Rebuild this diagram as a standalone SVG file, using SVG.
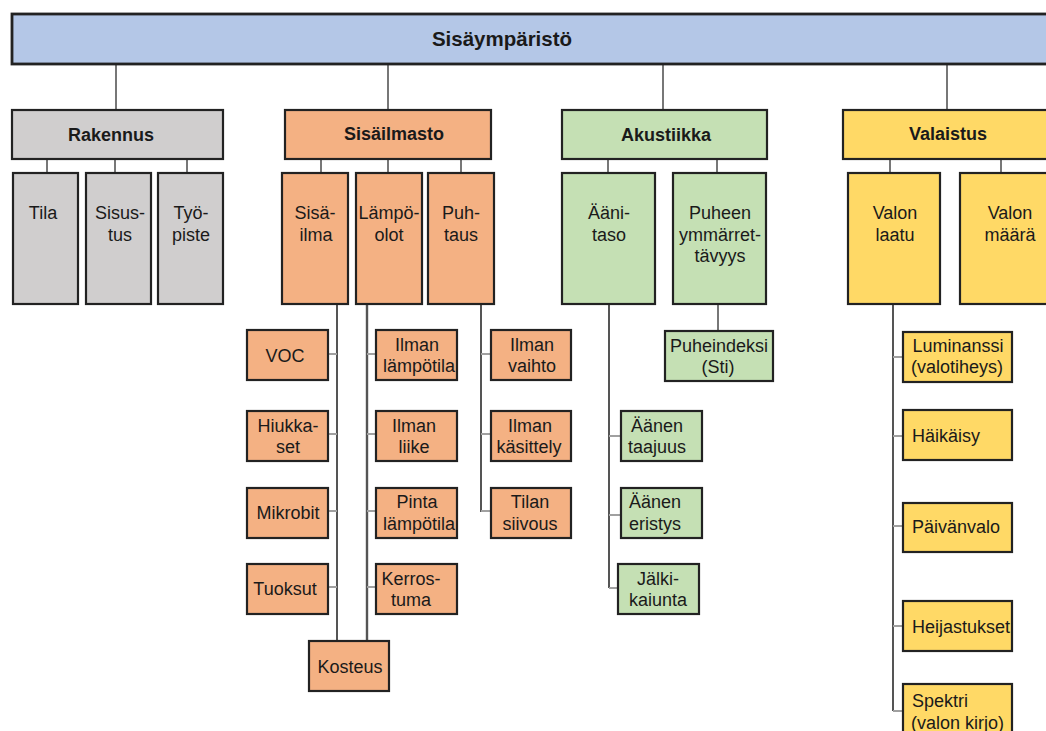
<svg xmlns="http://www.w3.org/2000/svg" width="1046" height="731" viewBox="0 0 1046 731">
<style>
text{font-family:"Liberation Sans",Arial,sans-serif;font-size:18px;fill:#1a1a1a;text-anchor:middle}
.b{font-weight:bold}
.t{font-size:20.5px}
.l{text-anchor:start}
rect{stroke:#222;stroke-width:2.2}
.blue{fill:#b4c7e7}
.gray{fill:#d0cece}
.or{fill:#f4b183}
.gr{fill:#c5e0b4}
.ye{fill:#ffd966}
.c line{stroke:#555;stroke-width:1.6}
.c .s{stroke:#a0a0a0;stroke-width:2}
</style>
<rect x="0" y="0" width="1046" height="731" style="fill:#fff;stroke:none"/>
<g class="c" id="connectors">
<line x1="116" y1="64" x2="116" y2="110"/>
<line x1="388" y1="64" x2="388" y2="110"/>
<line x1="663" y1="64" x2="663" y2="110"/>
<line x1="947" y1="64" x2="947" y2="110"/>
<line x1="47" y1="159" x2="47" y2="173"/>
<line x1="115" y1="159" x2="115" y2="173"/>
<line x1="187" y1="159" x2="187" y2="173"/>
<line x1="321" y1="159" x2="321" y2="173"/>
<line x1="388" y1="159" x2="388" y2="173"/>
<line x1="461" y1="159" x2="461" y2="173"/>
<line x1="608" y1="159" x2="608" y2="173"/>
<line x1="717" y1="159" x2="717" y2="173"/>
<line x1="890" y1="159" x2="890" y2="173"/>
<line x1="1001" y1="159" x2="1001" y2="173"/>
<line x1="337" y1="304" x2="337" y2="641" style="stroke-width:2"/>
<line x1="367" y1="304" x2="367" y2="641" style="stroke-width:2.4"/>
<line x1="481" y1="304" x2="481" y2="512" style="stroke-width:2"/>
<line x1="609" y1="304" x2="609" y2="588" style="stroke-width:2"/>
<line x1="893" y1="304" x2="893" y2="711" style="stroke-width:2"/>
<line x1="718" y1="304" x2="718" y2="331"/>
<line class="s" x1="328" y1="354" x2="337" y2="354"/>
<line class="s" x1="328" y1="434" x2="337" y2="434"/>
<line class="s" x1="328" y1="511" x2="337" y2="511"/>
<line class="s" x1="328" y1="587" x2="337" y2="587"/>
<line class="s" x1="367" y1="354" x2="376" y2="354"/>
<line class="s" x1="367" y1="434" x2="376" y2="434"/>
<line class="s" x1="367" y1="511" x2="376" y2="511"/>
<line class="s" x1="367" y1="587" x2="376" y2="587"/>
<line class="s" x1="481" y1="354" x2="491" y2="354"/>
<line class="s" x1="481" y1="434" x2="491" y2="434"/>
<line class="s" x1="481" y1="511" x2="491" y2="511"/>
<line class="s" x1="609" y1="436" x2="621" y2="436"/>
<line class="s" x1="609" y1="515" x2="621" y2="515"/>
<line class="s" x1="609" y1="588" x2="618" y2="588"/>
<line class="s" x1="893" y1="357" x2="903" y2="357"/>
<line class="s" x1="893" y1="436" x2="903" y2="436"/>
<line class="s" x1="893" y1="526" x2="903" y2="526"/>
<line class="s" x1="893" y1="626" x2="903" y2="626"/>
<line class="s" x1="893" y1="711" x2="903" y2="711"/>
</g>
<g id="n-root"><rect class="blue" x="12" y="14" width="1050" height="50" style="stroke-width:2.8"/><text class="b t" x="502" y="46">Sisäympäristö</text></g>
<g id="n-rakennus"><rect class="gray" x="12" y="110" width="211" height="49"/><text class="b" x="111" y="141">Rakennus</text></g>
<g id="n-sisailmasto"><rect class="or" x="285" y="110" width="206" height="49"/><text class="b" x="394" y="140">Sisäilmasto</text></g>
<g id="n-akustiikka"><rect class="gr" x="562" y="110" width="205" height="49"/><text class="b" x="666" y="141">Akustiikka</text></g>
<g id="n-valaistus"><rect class="ye" x="843" y="110" width="220" height="49"/><text class="b" x="948" y="140">Valaistus</text></g>

<g id="n-tila"><rect class="gray" x="13" y="173" width="65" height="131"/><text x="43" y="219">Tila</text></g>
<g id="n-sisustus"><rect class="gray" x="86" y="173" width="65" height="131"/><text x="120" y="219">Sisus-</text><text x="120" y="241">tus</text></g>
<g id="n-tyopiste"><rect class="gray" x="158" y="173" width="65" height="131"/><text x="191" y="219">Työ-</text><text x="191" y="241">piste</text></g>
<g id="n-sisailma"><rect class="or" x="282" y="173" width="66" height="131"/><text x="315" y="219">Sisä-</text><text x="316" y="241">ilma</text></g>
<g id="n-lampoolot"><rect class="or" x="356" y="173" width="66" height="131"/><text x="389" y="219">Lämpö-</text><text x="389" y="241">olot</text></g>
<g id="n-puhtaus"><rect class="or" x="428" y="173" width="66" height="131"/><text x="461" y="219">Puh-</text><text x="461" y="241">taus</text></g>
<g id="n-aanitaso"><rect class="gr" x="562" y="173" width="93" height="131"/><text x="609" y="219">Ääni-</text><text x="609" y="241">taso</text></g>
<g id="n-puheen"><rect class="gr" x="673" y="173" width="93" height="131"/><text x="720" y="219">Puheen</text><text x="720" y="241">ymmärret-</text><text x="720" y="262">tävyys</text></g>
<g id="n-valonlaatu"><rect class="ye" x="848" y="173" width="92" height="131"/><text x="895" y="219">Valon</text><text x="895" y="241">laatu</text></g>
<g id="n-valonmaara"><rect class="ye" x="960" y="173" width="100" height="131"/><text x="1010" y="219">Valon</text><text x="1010" y="241">määrä</text></g>

<g id="n-voc"><rect class="or" x="247" y="330" width="81" height="50"/><text x="285" y="362">VOC</text></g>
<g id="n-hiukkaset"><rect class="or" x="247" y="411" width="81" height="50"/><text x="288" y="432">Hiukka-</text><text x="288" y="453">set</text></g>
<g id="n-mikrobit"><rect class="or" x="247" y="488" width="81" height="50"/><text x="288" y="519">Mikrobit</text></g>
<g id="n-tuoksut"><rect class="or" x="247" y="564" width="81" height="50"/><text x="285" y="595">Tuoksut</text></g>
<g id="n-kosteus"><rect class="or" x="309" y="641" width="80" height="50"/><text x="350" y="673">Kosteus</text></g>
<g id="n-ilmanlampotila"><rect class="or" x="376" y="330" width="81" height="50"/><text x="417" y="351">Ilman</text><text x="419" y="372">lämpötila</text></g>
<g id="n-ilmanliike"><rect class="or" x="376" y="411" width="81" height="50"/><text x="414" y="432">Ilman</text><text x="414" y="453">liike</text></g>
<g id="n-pintalampotila"><rect class="or" x="376" y="488" width="81" height="50"/><text x="417" y="508">Pinta</text><text x="419" y="530">lämpötila</text></g>
<g id="n-kerrostuma"><rect class="or" x="376" y="564" width="81" height="50"/><text x="411" y="585">Kerros-</text><text x="411" y="606">tuma</text></g>
<g id="n-ilmanvaihto"><rect class="or" x="491" y="330" width="80" height="50"/><text x="532" y="351">Ilman</text><text x="532" y="372">vaihto</text></g>
<g id="n-ilmankasittely"><rect class="or" x="491" y="411" width="80" height="50"/><text x="530" y="432">Ilman</text><text x="529" y="453">käsittely</text></g>
<g id="n-tilansiivous"><rect class="or" x="491" y="488" width="80" height="50"/><text x="530" y="508">Tilan</text><text x="530" y="530">siivous</text></g>
<g id="n-puheindeksi"><rect class="gr" x="665" y="331" width="108" height="50"/><text x="719" y="352">Puheindeksi</text><text x="718" y="373">(Sti)</text></g>
<g id="n-aanentaajuus"><rect class="gr" x="621" y="411" width="81" height="50"/><text x="657" y="432">Äänen</text><text x="657" y="453">taajuus</text></g>
<g id="n-aaneneristys"><rect class="gr" x="621" y="488" width="81" height="50"/><text x="655" y="508">Äänen</text><text x="655" y="530">eristys</text></g>
<g id="n-jalkikaiunta"><rect class="gr" x="618" y="564" width="81" height="50"/><text x="658" y="585">Jälki-</text><text x="658" y="606">kaiunta</text></g>
<g id="n-luminanssi"><rect class="ye" x="903" y="332" width="109" height="50"/><text x="958" y="352">Luminanssi</text><text x="957" y="373">(valotiheys)</text></g>
<g id="n-haikaisy"><rect class="ye" x="903" y="410" width="109" height="50"/><text class="l" x="912" y="442">Häikäisy</text></g>
<g id="n-paivanvalo"><rect class="ye" x="903" y="503" width="109" height="49"/><text class="l" x="912" y="533">Päivänvalo</text></g>
<g id="n-heijastukset"><rect class="ye" x="903" y="601" width="109" height="50"/><text class="l" x="912" y="633">Heijastukset</text></g>
<g id="n-spektri"><rect class="ye" x="903" y="684" width="109" height="60"/><text class="l" x="912" y="707">Spektri</text><text class="l" x="911" y="729">(valon kirjo)</text></g>
</svg>
